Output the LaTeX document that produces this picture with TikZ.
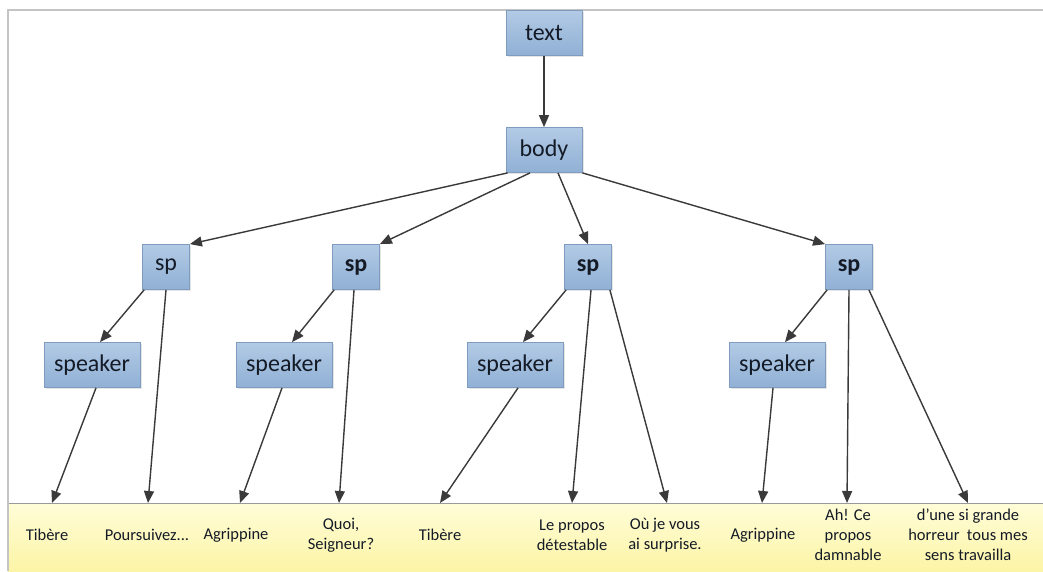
\documentclass[tikz,border=0pt]{standalone}
\usepackage{fontspec}
\setmainfont{Carlito}
\usetikzlibrary{arrows.meta,calc,shadows}
\definecolor{boxborder}{HTML}{7F9CBE}
\definecolor{boxtop}{HTML}{B2CAE5}
\definecolor{boxbot}{HTML}{90B0D5}
\definecolor{textdark}{HTML}{141B26}
\definecolor{arrowgray}{HTML}{3A3A3A}
\definecolor{bandtop}{HTML}{FFFDD8}
\definecolor{bandbot}{HTML}{FCF4A6}
\definecolor{framegray}{HTML}{C4C4C4}
\definecolor{bandline}{HTML}{9A9A9A}
\tikzset{
  box/.style={draw=boxborder, line width=0.8pt, top color=boxtop, bottom color=boxbot,
    font=\fontsize{24}{28}\selectfont, text=textdark, inner sep=0pt, minimum height=45pt,
    drop shadow={opacity=0.2, shadow xshift=1.5pt, shadow yshift=-1.5pt}},
  topbox/.style={box, minimum width=76pt},
  spbox/.style={box, minimum width=47pt},
  spboldbox/.style={spbox, font=\fontsize{24}{28}\selectfont\bfseries},
  spkbox/.style={box, minimum width=96pt},
  leaf/.style={font=\fontsize{16.5}{20}\selectfont, text=textdark, align=center, inner sep=0pt},
  arr/.style={draw=arrowgray, line width=1.4pt, -{Triangle[length=12pt,width=10pt]}}
}
\begin{document}
\begin{tikzpicture}[x=1pt,y=-1pt]
\useasboundingbox (0,0) rectangle (1043,571);
\fill[white] (0,0) rectangle (1043,571);
% leaf band
\fill[top color=bandtop, bottom color=bandbot] (8,503) rectangle (1043,571);
\draw[bandline, line width=1pt] (8,503) -- (1043,503);
% frame
\draw[framegray, line width=1.6pt] (8,571) -- (8,10) -- (1043,10);

% boxes
\node[topbox] (text) at (544,33) {text};
\node[topbox] (body) at (544,150) {body};
\node[spbox] (sp1) at (166,267) {sp};
\node[spboldbox] (sp2) at (356,267) {sp};
\node[spboldbox] (sp3) at (588,267) {sp};
\node[spboldbox] (sp4) at (849,267) {sp};
\node[spkbox] (spk1) at (92,365) {speaker};
\node[spkbox] (spk2) at (284,365) {speaker};
\node[spkbox] (spk3) at (515,365) {speaker};
\node[spkbox] (spk4) at (777,365) {speaker};

% leaves
\node[leaf] (l1) at (47,535) {Tibère};
\node[leaf] (l2) at (147,535) {Poursuivez...};
\node[leaf] (l3) at (236,535) {Agrippine};
\node[leaf] (l4) at (341,535) {Quoi,\\Seigneur?};
\node[leaf] (l5) at (440,535) {Tibère};
\node[leaf] (l6) at (572,535) {Le propos\\détestable};
\node[leaf] (l7) at (665,535) {Où je vous\\ai surprise.};
\node[leaf] (l8) at (763,535) {Agrippine};
\node[leaf] (l9) at (848,535) {Ah! Ce\\propos\\damnable};
\node[leaf] (l10) at (968,535) {d’une si grande\\horreur~ tous mes\\sens travailla};

% arrow tip coordinates on the band
\coordinate (t1) at (52,503);
\coordinate (t2) at (148,503);
\coordinate (t3) at (240,503);
\coordinate (t4) at (339,503);
\coordinate (t5) at (440,503);
\coordinate (t6) at (572,503);
\coordinate (t7) at (667,503);
\coordinate (t8) at (762,503);
\coordinate (t9) at (847,503);
\coordinate (t10) at (968,503);

% connectors
\draw[arr] (text) -- (body);
\draw[arr] ($(body.south west)+(2,0)$) -- (sp1.north east);
\draw[arr] ($(body.south)+(-14,0)$) -- (sp2.north east);
\draw[arr] ($(body.south)+(14,0)$) -- (sp3.north);
\draw[arr] (body.south east) -- (sp4.north west);

\draw[arr] ($(sp1.south west)+(2,0)$) -- ($(spk1.north)+(8,0)$);
\draw[arr] ($(sp2.south west)+(2,0)$) -- ($(spk2.north)+(8,0)$);
\draw[arr] ($(sp3.south west)+(2,0)$) -- ($(spk3.north)+(8,0)$);
\draw[arr] ($(sp4.south west)+(2,0)$) -- ($(spk4.north)+(8,0)$);

\draw[arr] (sp1.south) -- (t2);
\draw[arr] ($(sp2.south)+(-2,0)$) -- (t4);
\draw[arr] ($(sp3.south)+(3,0)$) -- (t6);
\draw[arr] ($(sp3.south east)+(-2,0)$) -- (t7);
\draw[arr] (sp4.south) -- (t9);
\draw[arr] ($(sp4.south east)+(-4,0)$) -- (t10);

\draw[arr] ($(spk1.south)+(4,0)$) -- (t1);
\draw[arr] ($(spk2.south)+(-2,0)$) -- (t3);
\draw[arr] ($(spk3.south)+(3,0)$) -- (t5);
\draw[arr] ($(spk4.south)+(-4,0)$) -- (t8);
\end{tikzpicture}
\end{document}
